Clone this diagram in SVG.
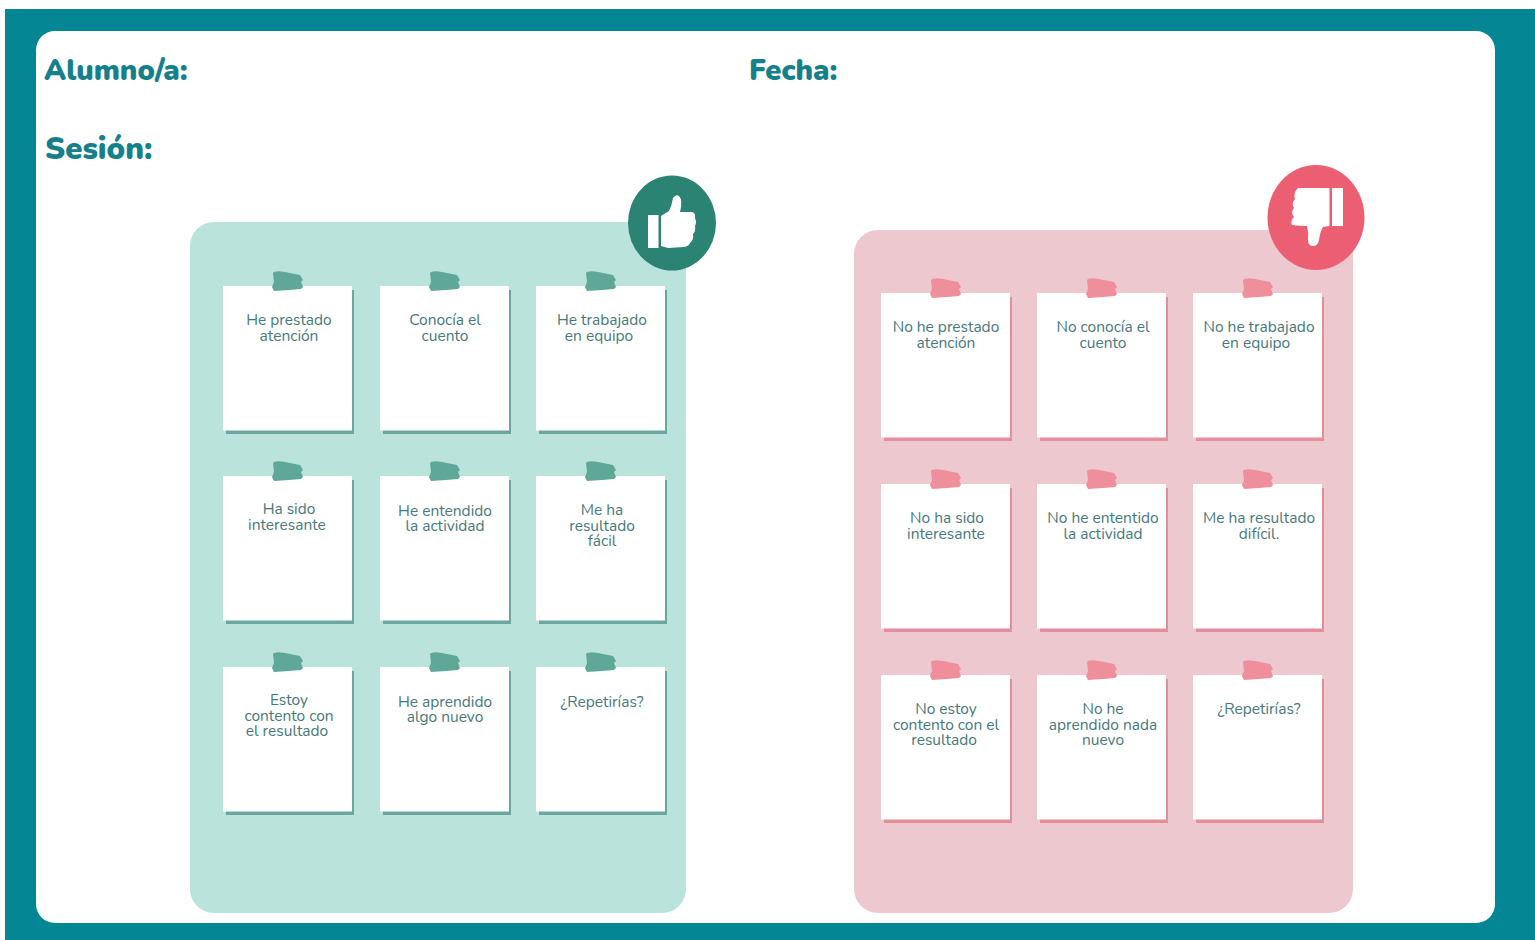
<svg xmlns="http://www.w3.org/2000/svg" width="1535" height="940" viewBox="0 0 1535 940">
<style>
text{font-family:Nunito,"Noto Sans","Open Sans","Liberation Sans",sans-serif}
.h{font-weight:900;font-size:29px;fill:#16808a}
.t{font-size:15.5px;text-anchor:middle;fill:#47797c}
.sg{fill:#6ba79e}.sr{fill:#e58d99}
.pg{fill:#5fa898}.pr{fill:#ee8f9b}
.n{fill:#fff}
</style>
<defs>
<g id="note-g">
<rect class="sg" x="3" y="4" width="128" height="144"/>
<rect class="n" x="0" y="0" width="129" height="144.500"/>
<path class="pg" d="M50-13 Q52-16 62-14 L77-11 L80-6 L78-4 L80 1 L78 3 L66 4 L51 5 L49 1 L51-4Z"/>
</g>
<g id="note-r">
<rect class="sr" x="3" y="4" width="128" height="144"/>
<rect class="n" x="0" y="0" width="129" height="144.500"/>
<path class="pr" d="M50-13 Q52-16 62-14 L77-11 L80-6 L78-4 L80 1 L78 3 L66 4 L51 5 L49 1 L51-4Z"/>
</g>
</defs>
<rect id="frame" x="5" y="9" width="1530" height="931" fill="#058695"/>
<rect id="sheet" x="36" y="31" width="1459" height="892" rx="19" fill="#fff"/>
<text id="alumno" class="h" x="44" y="80">Alumno/a:</text>
<text id="fecha" class="h" x="749" y="80">Fecha:</text>
<text id="sesion" class="h" x="45" y="159" style="font-size:31px">Sesión:</text>

<g id="panel-green">
<rect x="190" y="222" width="496" height="691" rx="24" fill="#bae3dc"/>
<g id="g1"><use href="#note-g" x="223" y="286"/><text class="t" y="325"><tspan x="289">He prestado</tspan><tspan x="289" dy="15.700">atención</tspan></text></g>
<g id="g2"><use href="#note-g" x="380" y="286"/><text class="t" y="325"><tspan x="445">Conocía el</tspan><tspan x="445" dy="15.700">cuento</tspan></text></g>
<g id="g3"><use href="#note-g" x="536" y="286"/><text class="t" y="325"><tspan x="602">He trabajado</tspan><tspan x="599" dy="15.700">en equipo</tspan></text></g>
<g id="g4"><use href="#note-g" x="223" y="476"/><text class="t" y="514"><tspan x="289">Ha sido</tspan><tspan x="287" dy="15.700">interesante</tspan></text></g>
<g id="g5"><use href="#note-g" x="380" y="476"/><text class="t" y="515.500"><tspan x="445">He entendido</tspan><tspan x="445" dy="15.700">la actividad</tspan></text></g>
<g id="g6"><use href="#note-g" x="536" y="476"/><text class="t" y="515"><tspan x="602">Me ha</tspan><tspan x="602" dy="15.700">resultado</tspan><tspan x="602" dy="15.700">fácil</tspan></text></g>
<g id="g7"><use href="#note-g" x="223" y="667"/><text class="t" y="705"><tspan x="289">Estoy</tspan><tspan x="289" dy="15.700">contento con</tspan><tspan x="287" dy="15.700">el resultado</tspan></text></g>
<g id="g8"><use href="#note-g" x="380" y="667"/><text class="t" y="706.500"><tspan x="445">He aprendido</tspan><tspan x="445" dy="15.700">algo nuevo</tspan></text></g>
<g id="g9"><use href="#note-g" x="536" y="667"/><text class="t" x="602" y="706.500">¿Repetirías?</text></g>
<g id="thumb-up">
<ellipse cx="672" cy="223" rx="44" ry="47.500" fill="#2b8373"/>
<rect x="648" y="215" width="10.500" height="33" fill="#fff"/>
<path fill="#fff" d="M661 216 L669 211 Q672 205 673 198 Q676 194 679 196 Q683 200 680 212 L692 212 Q696 213 695 218 Q697 222 695 226 Q696 231 693 234 Q694 240 690 243 Q689 246 684 247 L668 248 L661 246Z"/>
</g>
</g>

<g id="panel-red">
<rect x="854" y="230" width="499" height="683" rx="24" fill="#edc9cf"/>
<g id="r1"><use href="#note-r" x="881" y="293"/><text class="t" y="332"><tspan x="946">No he prestado</tspan><tspan x="946" dy="15.700">atención</tspan></text></g>
<g id="r2"><use href="#note-r" x="1037" y="293"/><text class="t" y="332"><tspan x="1103">No conocía el</tspan><tspan x="1103" dy="15.700">cuento</tspan></text></g>
<g id="r3"><use href="#note-r" x="1193" y="293"/><text class="t" y="332"><tspan x="1259">No he trabajado</tspan><tspan x="1256" dy="15.700">en equipo</tspan></text></g>
<g id="r4"><use href="#note-r" x="881" y="484"/><text class="t" y="523"><tspan x="947">No ha sido</tspan><tspan x="946" dy="15.700">interesante</tspan></text></g>
<g id="r5"><use href="#note-r" x="1037" y="484"/><text class="t" y="523"><tspan x="1103">No he ententido</tspan><tspan x="1103" dy="15.700">la actividad</tspan></text></g>
<g id="r6"><use href="#note-r" x="1193" y="484"/><text class="t" y="523"><tspan x="1259">Me ha resultado</tspan><tspan x="1259" dy="15.700">difícil.</tspan></text></g>
<g id="r7"><use href="#note-r" x="881" y="675"/><text class="t" y="714"><tspan x="946">No estoy</tspan><tspan x="946" dy="15.700">contento con el</tspan><tspan x="944" dy="15.700">resultado</tspan></text></g>
<g id="r8"><use href="#note-r" x="1037" y="675"/><text class="t" y="714"><tspan x="1103">No he</tspan><tspan x="1103" dy="15.700">aprendido nada</tspan><tspan x="1103" dy="15.700">nuevo</tspan></text></g>
<g id="r9"><use href="#note-r" x="1193" y="675"/><text class="t" x="1259" y="714">¿Repetirías?</text></g>
<g id="thumb-down">
<ellipse cx="1316" cy="217.500" rx="48.500" ry="52.500" fill="#ec5f72"/>
<rect x="1332" y="188" width="11" height="38" fill="#fff"/>
<path fill="#fff" d="M1298 188 L1329.500 188 L1329.500 226 L1323 227 Q1320 232 1319 240 Q1318 246 1313 246 Q1308 246 1308 240 Q1309 233 1307 226 Q1299 226 1292 225 Q1290 220 1294 217 Q1290 212 1294 208 Q1291 203 1295 199 Q1293 193 1298 188Z"/>
</g>
</g>
</svg>
